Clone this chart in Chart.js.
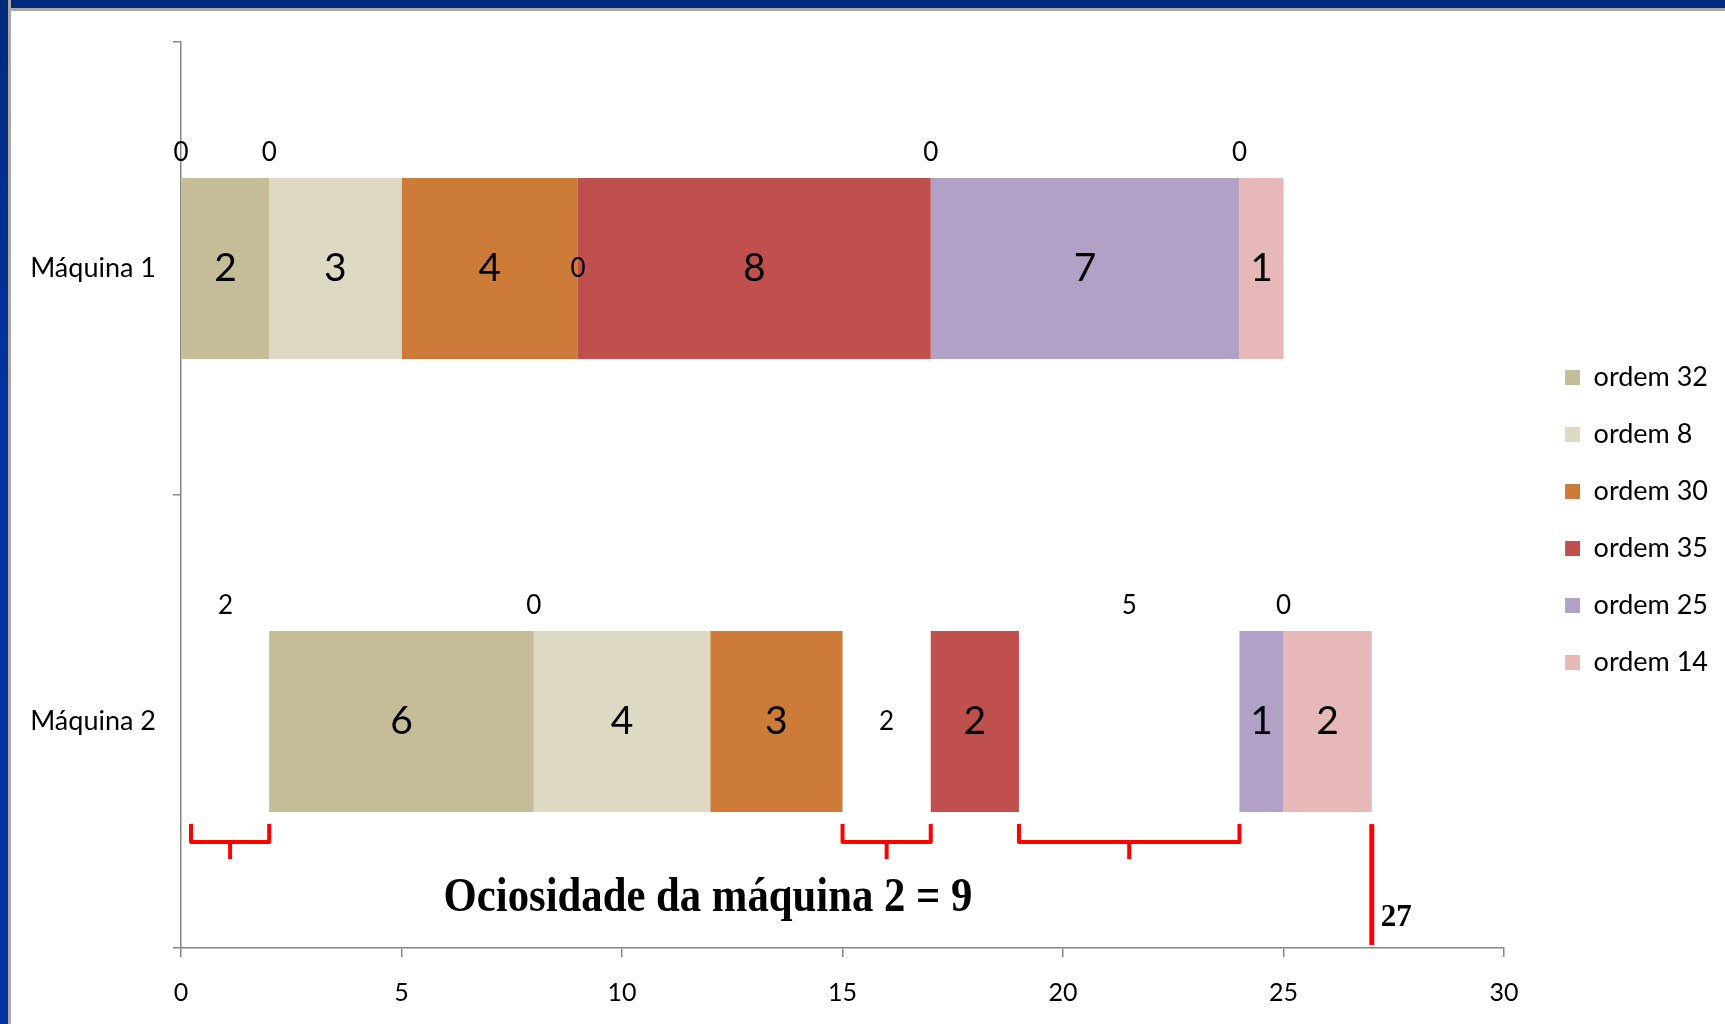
<!DOCTYPE html>
<html>
<head>
<meta charset="utf-8">
<script src="https://cdn.jsdelivr.net/npm/chart.js@4.4.1/dist/chart.umd.min.js"></script>
<style>
html,body{margin:0;padding:0;background:#fff;}
#wrap{position:absolute;left:0;top:0;width:1725px;height:1024px;}
#topbar{position:absolute;left:0;top:0;width:1725px;height:8px;background:#002A7C;border-bottom:3px solid #a8a8a8;}
#leftbar{position:absolute;left:0;top:0;width:8px;height:1024px;background:linear-gradient(#002A7C,#0033A0 40%,#0033A0);border-right:3px solid #a8a8a8;}
</style>
</head>
<body>
<div id="wrap"><canvas id="c"></canvas></div>
<div id="topbar"></div>
<div id="leftbar"></div>
<script>
// ---- data ----
const machines = ['Máquina 1', 'Máquina 2'];
const orderNames = ['ordem 32', 'ordem 8', 'ordem 30', 'ordem 35', 'ordem 25', 'ordem 14'];
const ordem32 = [2, 6];
const ordem8  = [3, 4];
const ordem30 = [4, 3];
const ordem35 = [8, 2];
const ordem25 = [7, 1];
const ordem14 = [1, 2];
// idle (ociosidade) gaps before each order
const idleBefore32 = [0, 2];
const idleBefore8  = [0, 0];
const idleBefore35 = [0, 2];
const idleBefore25 = [0, 5];
const idleBefore14 = [0, 0];
const xTicks = [0, 5, 10, 15, 20, 25, 30];

const orderColors = ['#C4BD97', '#DDD9C3', '#CC7B38', '#C0504D', '#B2A1C7', '#E6B9B8'];

function idleSet(name, data, pos) {
  return { label: name, data: data, idle: true, labelPos: pos,
           backgroundColor: 'rgba(0,0,0,0)', borderWidth: 0 };
}
function orderSet(i, data) {
  return { label: orderNames[i], data: data, idle: false,
           backgroundColor: orderColors[i], borderWidth: 0 };
}

const datasets = [
  idleSet('ocioso 1', idleBefore32, 'above'),
  orderSet(0, ordem32),
  idleSet('ocioso 2', idleBefore8, 'above'),
  orderSet(1, ordem8),
  orderSet(2, ordem30),
  idleSet('ocioso 3', idleBefore35, 'center'),
  orderSet(3, ordem35),
  idleSet('ocioso 4', idleBefore25, 'above'),
  orderSet(4, ordem25),
  idleSet('ocioso 5', idleBefore14, 'above'),
  orderSet(5, ordem14)
];

const segLabels = {
  id: 'segLabels',
  afterDatasetsDraw(chart) {
    const ctx = chart.ctx;
    ctx.save();
    ctx.textAlign = 'center';
    ctx.textBaseline = 'middle';
    ctx.fillStyle = '#000';
    chart.data.datasets.forEach((ds, i) => {
      const meta = chart.getDatasetMeta(i);
      meta.data.forEach((el, j) => {
        const p = el.getProps(['x', 'y', 'base', 'height'], true);
        const cx = (p.x + p.base) / 2;
        let cy = p.y;
        let size = 39;
        if (ds.idle) {
          size = 26;
          if (ds.labelPos === 'above') cy = p.y - p.height / 2 - 25;
        }
        ctx.font = size + 'px Lato';
        ctx.fillText(String(ds.data[j]), cx, cy);
      });
    });
    ctx.restore();
  }
};

const idleNotes = {
  id: 'idleNotes',
  afterDraw(chart) {
    const ctx = chart.ctx;
    const xs = chart.scales.x;
    const el = chart.getDatasetMeta(1).data[1];
    const p = el.getProps(['y', 'height'], true);
    const barBottom = p.y + p.height / 2;
    let acc = 0, idleTotal = 0;
    const gaps = [];
    chart.data.datasets.forEach(ds => {
      const v = ds.data[1];
      if (ds.idle && v > 0) { gaps.push([acc, acc + v]); idleTotal += v; }
      acc += v;
    });
    ctx.save();
    ctx.strokeStyle = '#FF0000';
    ctx.lineWidth = 4;
    ctx.lineJoin = 'round';
    const yTop = barBottom + 12, yMid = barBottom + 30, yEnd = barBottom + 47;
    gaps.forEach(([a, b]) => {
      let x0 = xs.getPixelForValue(a);
      const x1 = xs.getPixelForValue(b);
      if (a === 0) x0 += 10;
      ctx.beginPath();
      ctx.moveTo(x0, yTop); ctx.lineTo(x0, yMid); ctx.lineTo(x1, yMid); ctx.lineTo(x1, yTop);
      ctx.stroke();
      const xm = (x0 + x1) / 2;
      ctx.beginPath();
      ctx.moveTo(xm, yMid); ctx.lineTo(xm, yEnd);
      ctx.stroke();
    });
    const xEnd = xs.getPixelForValue(acc);
    ctx.lineWidth = 5;
    ctx.beginPath();
    ctx.moveTo(xEnd, yTop);
    ctx.lineTo(xEnd, chart.chartArea.bottom - 3);
    ctx.stroke();
    ctx.fillStyle = '#000';
    ctx.textBaseline = 'alphabetic';
    ctx.textAlign = 'left';
    ctx.font = 'bold 31px "Liberation Serif"';
    ctx.fillText(String(acc), xEnd + 9, chart.chartArea.bottom - 22);
    ctx.save();
    ctx.translate(xs.getPixelForValue(6) - 2, barBottom + 99);
    ctx.scale(0.89, 1);
    ctx.font = 'bold 48px "Liberation Serif"';
    ctx.fillText('Ociosidade da máquina 2 = ' + idleTotal, 0, 0);
    ctx.restore();
    ctx.restore();
  }
};

const gray = '#868686';

new Chart(document.getElementById('c'), {
  type: 'bar',
  data: { labels: machines, datasets: datasets },
  options: {
    indexAxis: 'y',
    responsive: true,
    maintainAspectRatio: false,
    animation: false,
    barPercentage: 1,
    categoryPercentage: 0.4,
    layout: { padding: { left: 32, top: 16, right: 7, bottom: 0 } },
    scales: {
      x: {
        stacked: true,
        min: xTicks[0],
        max: xTicks[xTicks.length - 1],
        afterBuildTicks: s => { s.ticks = xTicks.map(v => ({ value: v })); },
        grid: { display: true, drawOnChartArea: false, drawTicks: true, tickLength: 9, color: gray, lineWidth: 1.5 },
        border: { display: true, color: gray, width: 1.5 },
        ticks: { color: '#000', font: { family: 'Lato', size: 25 }, padding: 21 },
        afterFit: s => { s.height = 76; }
      },
      xGap: {
        type: 'linear',
        position: 'top',
        display: true,
        grid: { display: false },
        border: { display: false },
        ticks: { display: false },
        afterFit: s => { s.height = 26; }
      },
      y: {
        stacked: true,
        grid: { display: true, drawOnChartArea: false, drawTicks: true, tickLength: 8, color: gray, lineWidth: 1.5, offset: true },
        border: { display: true, color: gray, width: 1.5 },
        ticks: { color: '#000', font: { family: 'Lato', size: 27 }, padding: 17 },
        afterFit: s => { s.width = 149; }
      },
      yGap: {
        type: 'category',
        position: 'right',
        display: true,
        grid: { display: false },
        border: { display: false },
        ticks: { display: false },
        afterFit: s => { s.width = 31; }
      }
    },
    plugins: {
      tooltip: { enabled: false },
      legend: {
        position: 'right',
        labels: {
          color: '#000',
          font: { family: 'Lato', size: 27 },
          boxWidth: 15,
          boxHeight: 15,
          padding: 30,
          filter: (item, data) => !data.datasets[item.datasetIndex].idle
        }
      }
    }
  },
  plugins: [segLabels, idleNotes]
});
</script>
</body>
</html>
